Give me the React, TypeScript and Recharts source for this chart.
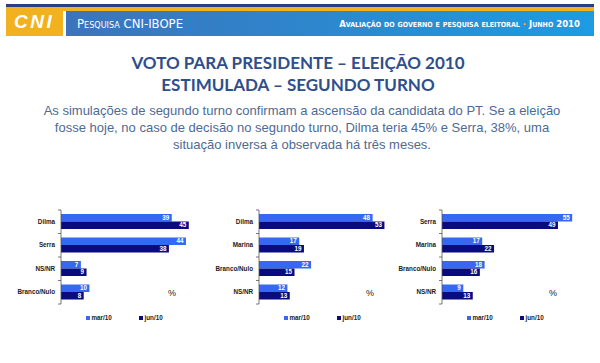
import React from "react";
import { Bar, BarChart, LabelList, Legend, XAxis, YAxis } from "recharts";

const seriesNames = ["mar/10", "jun/10"];
const seriesColors = ["#3668f2", "#0b0b80"];

const p1Categories = ["Dilma", "Serra", "NS/NR", "Branco/Nulo"];
const p1Mar = [39, 44, 7, 10];
const p1Jun = [45, 38, 9, 8];

const p2Categories = ["Dilma", "Marina", "Branco/Nulo", "NS/NR"];
const p2Mar = [48, 17, 22, 12];
const p2Jun = [53, 19, 15, 13];

const p3Categories = ["Serra", "Marina", "Branco/Nulo", "NS/NR"];
const p3Mar = [55, 17, 18, 9];
const p3Jun = [49, 22, 16, 13];

const titleLines = ["VOTO PARA PRESIDENTE – ELEIÇÃO 2010", "ESTIMULADA – SEGUNDO TURNO"];
const bodyLines = [
  "As simulações de segundo turno confirmam a ascensão da candidata do PT. Se a eleição",
  "fosse hoje, no caso de decisão no segundo turno, Dilma teria 45% e Serra, 38%, uma",
  "situação inversa à observada há três meses.",
];

const labelFont = "'Liberation Sans', Arial, sans-serif";
const CHART_H = 130;
const MARGIN = { top: 10, right: 7, bottom: 26, left: 0 };
const PLOT_H = CHART_H - MARGIN.top - MARGIN.bottom;

function LegendBox({ payload }: any) {
  const items = [...(payload || [])].sort((a: any, b: any) => seriesNames.indexOf(a.value) - seriesNames.indexOf(b.value));
  return (
    <div style={{ display: "flex", fontFamily: labelFont, fontSize: 6.3, fontWeight: "bold", color: "#1a1a1a" }}>
      {items.map((p: any) => (
        <div key={p.value} style={{ width: 53, display: "flex", alignItems: "center" }}>
          <span style={{ width: 4, height: 4, background: p.color, marginRight: 1.5, display: "inline-block" }} />
          <span>{p.value}</span>
        </div>
      ))}
    </div>
  );
}

// category label plus the Excel-style tick marks between categories
function CategoryTick(props: any) {
  const { x, y, payload, index, visibleTicksCount, band } = props;
  const half = band / 2;
  return (
    <g>
      <line x1={x + 2} x2={x + 5} y1={y - half} y2={y - half} stroke="#555" strokeWidth={0.8} />
      {index === visibleTicksCount - 1 && <line x1={x + 2} x2={x + 5} y1={y + half} y2={y + half} stroke="#555" strokeWidth={0.8} />}
      <text x={x - 1} y={y} dy="0.35em" textAnchor="end" fill="#1a1a1a" fontSize={6.3} fontWeight="bold" fontFamily={labelFont}>
        {payload.value}
      </text>
    </g>
  );
}

type PanelProps = { categories: string[]; mar: number[]; jun: number[]; max: number; axisX: number };

function Panel({ categories, mar, jun, max, axisX }: PanelProps) {
  const data = categories.map((name, i) => ({ name, mar: mar[i], jun: jun[i] }));
  const valueLabel = { fill: "#ffffff", fontSize: 6.3, fontWeight: "bold", fontFamily: labelFont };
  return (
    <div style={{ position: "absolute", left: axisX - 61, top: 200 }}>
      <BarChart width={210} height={CHART_H} data={data} layout="vertical" margin={MARGIN} barGap={0} barSize={7.5}>
        <XAxis type="number" domain={[0, max]} hide />
        <YAxis
          type="category"
          dataKey="name"
          width={61}
          interval={0}
          axisLine={{ stroke: "#555", strokeWidth: 0.8 }}
          tickLine={false}
          tickSize={0}
          tickMargin={5}
          tick={<CategoryTick band={PLOT_H / categories.length} />}
        />
        <Bar dataKey="mar" name={seriesNames[0]} fill={seriesColors[0]} isAnimationActive={false}>
          <LabelList dataKey="mar" position="insideRight" offset={2.5} style={valueLabel} />
        </Bar>
        <Bar dataKey="jun" name={seriesNames[1]} fill={seriesColors[1]} isAnimationActive={false}>
          <LabelList dataKey="jun" position="insideRight" offset={2.5} style={valueLabel} />
        </Bar>
        <Legend
          layout="horizontal"
          verticalAlign="middle"
          align="center"
          content={<LegendBox />}
          wrapperStyle={{ left: 86, top: 114, width: 120 }}
        />
      </BarChart>
      <div style={{ position: "absolute", left: 61 + 107, top: 88, fontFamily: labelFont, fontSize: 9, color: "#222" }}>%</div>
    </div>
  );
}

export default function App() {
  return (
    <div style={{ position: "absolute", left: 0, top: 0, width: 600, height: 363, background: "#fff", overflow: "hidden" }}>
      <div style={{ position: "absolute", left: 6, top: 4, width: 588, height: 3, background: "#2b3f80" }} />
      <div style={{ position: "absolute", left: 6, top: 7, width: 588, height: 4, background: "#f2b11e" }} />
      <div style={{ position: "absolute", left: 6, top: 7, width: 57, height: 29, background: "#f2b11e" }} />
      <div style={{ position: "absolute", left: 66, top: 11, width: 528, height: 25, background: "linear-gradient(90deg,#3c74bb,#1d9be2)" }} />
      <div
        style={{
          position: "absolute", left: 14, top: 10, fontFamily: labelFont, fontSize: 19, fontWeight: "bold",
          fontStyle: "italic", color: "#fff", letterSpacing: 2.5, lineHeight: "24px",
        }}
      >
        CNI
      </div>
      <div
        style={{
          position: "absolute", left: 77, top: 12, fontFamily: "'Liberation Sans Narrow', 'DejaVu Sans Condensed', sans-serif",
          fontSize: 13, fontVariant: "small-caps", color: "#fff", lineHeight: "24px",
        }}
      >
        Pesquisa CNI-IBOPE
      </div>
      <div
        style={{
          position: "absolute", right: 20, top: 13, fontFamily: "'Liberation Sans Narrow', 'DejaVu Sans Condensed', sans-serif",
          fontSize: 9.5, fontWeight: "bold", fontVariant: "small-caps", color: "#fff", lineHeight: "22px", whiteSpace: "nowrap",
        }}
      >
        Avaliação do governo e pesquisa eleitoral <span style={{ color: "#f2c24a" }}>·</span> Junho 2010
      </div>

      <div style={{ position: "absolute", left: 0, top: 52, width: 596, textAlign: "center", fontFamily: "Lato, sans-serif", fontWeight: "bold", fontSize: 17, color: "#2f4e8c", lineHeight: "22px" }}>
        {titleLines.map((t) => (
          <div key={t}>{t}</div>
        ))}
      </div>
      <div style={{ position: "absolute", left: 0, top: 102, width: 604, textAlign: "center", fontFamily: labelFont, fontSize: 13, color: "#4d6a96", lineHeight: "17px" }}>
        {bodyLines.map((t) => (
          <div key={t}>{t}</div>
        ))}
      </div>

      <Panel categories={p1Categories} mar={p1Mar} jun={p1Jun} max={50} axisX={61} />
      <Panel categories={p2Categories} mar={p2Mar} jun={p2Jun} max={60} axisX={259} />
      <Panel categories={p3Categories} mar={p3Mar} jun={p3Jun} max={60} axisX={442} />
    </div>
  );
}
